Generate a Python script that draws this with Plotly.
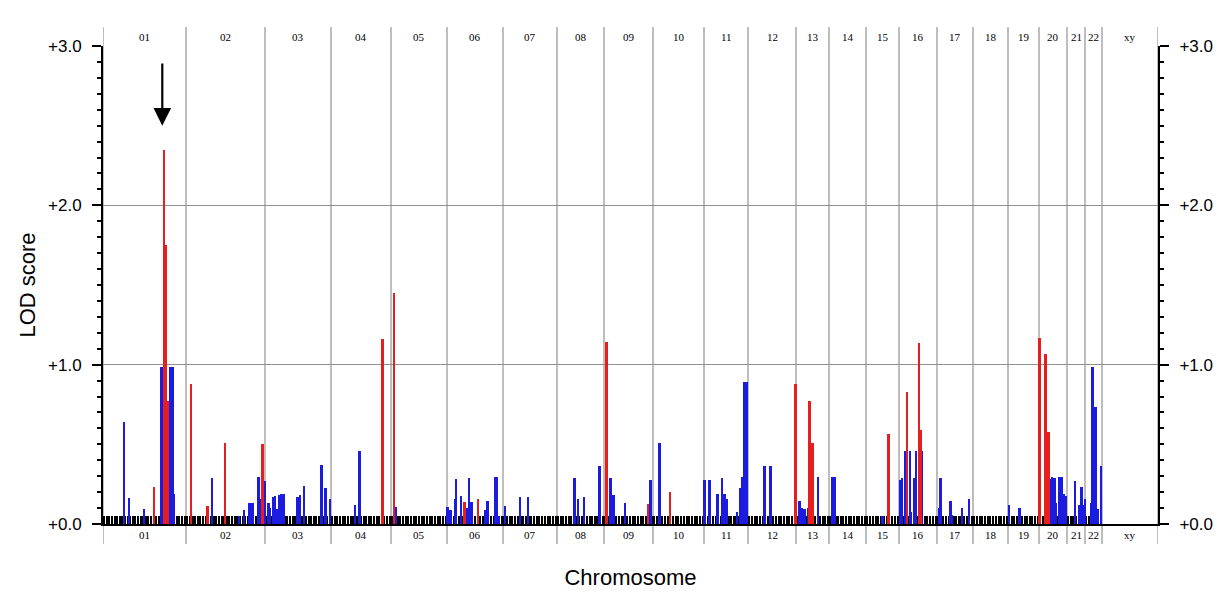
import plotly.graph_objects as go

# ---------------- data ----------------
chrom_labels = ["01", "02", "03", "04", "05", "06", "07", "08", "09", "10", "11",
                "12", "13", "14", "15", "16", "17", "18", "19", "20", "21", "22", "xy"]
# relative map length of each chromosome (genome axis units)
chrom_lengths = [83, 79, 66, 60, 56, 56, 54, 47, 49, 51, 44, 48, 33, 37, 33, 38,
                 36, 35, 31, 28, 18, 17, 56]
# number of genotyped markers per chromosome
marker_counts = [32, 30, 25, 23, 21, 21, 20, 18, 18, 19, 17, 18, 13, 14, 12, 14,
                 14, 13, 12, 10, 7, 6, 0]
marker_height = 0.05

# red series: genome position, LOD
red_pos = [51, 61.3, 63, 65.3, 88, 104.7, 122.3, 159.7, 279.7, 291.3, 361.7,
           375, 503.7, 545.3, 567, 692.7, 706.7, 709.7, 785.7, 804.3, 816, 818.3,
           936.7, 942.7, 945.7]
red_lod = [0.23, 2.35, 1.75, 0.77, 0.88, 0.11, 0.51, 0.50, 1.16, 1.45, 0.14,
           0.16, 1.14, 0.125, 0.20, 0.88, 0.77, 0.51, 0.565, 0.83, 1.135, 0.59,
           1.17, 1.07, 0.58]

# blue series: genome position, LOD
blue_pos = [21, 26, 41, 58.7, 67, 69.7, 71, 109, 136, 141.3, 146.7, 149.7, 155.7,
            156.7, 161.7, 165.7, 167.3, 170.3, 172.3, 174.7, 176.3, 178, 180.7,
            194.7, 197, 201.3, 218.7, 222.7, 227, 252, 256.7, 292.7, 344.7, 347.7,
            352, 353.3, 358.3, 363.7, 366, 368, 369.3, 382.7, 384.7, 392.7, 394,
            396.3, 402.3, 417, 425, 471.7, 475, 481.3, 496.7, 507.7, 510.7, 522,
            547.7, 556.7, 601.7, 606.7, 614.7, 619, 621.7, 623.7, 634.3, 637, 639.3,
            641.7, 644.3, 661.7, 667.7, 696.7, 698.7, 701.7, 705, 715, 729, 731.7,
            732.3, 779.7, 797, 799, 802.3, 807, 808, 811, 813.3, 817, 819.3, 836.7,
            837.7, 847.7, 849.3, 859.3, 866.3, 906.3, 916.7, 946.7, 949, 951.7,
            953.3, 956.7, 958.7, 960.7, 962.7, 972, 976.7, 978.7, 980.3, 982.3,
            988, 989.7, 992.7, 995, 998]
blue_lod = [0.64, 0.165, 0.096, 0.985, 0.985, 0.985, 0.19, 0.29, 0.05, 0.09,
            0.13, 0.13, 0.295, 0.155, 0.27, 0.13, 0.10, 0.17, 0.175, 0.096, 0.18,
            0.19, 0.19, 0.17, 0.18, 0.24, 0.37, 0.226, 0.155, 0.117, 0.456, 0.105,
            0.105, 0.09, 0.155, 0.285, 0.175, 0.10, 0.29, 0.135, 0.14, 0.088,
            0.146, 0.297, 0.297, 0.05, 0.113, 0.167, 0.167, 0.29, 0.155, 0.167,
            0.364, 0.29, 0.18, 0.13, 0.276, 0.506, 0.276, 0.276, 0.19, 0.29, 0.19,
            0.155, 0.075, 0.226, 0.297, 0.89, 0.89, 0.364, 0.364, 0.142, 0.10,
            0.096, 0.10, 0.293, 0.293, 0.293, 0.188, 0.05, 0.276, 0.29, 0.456,
            0.456, 0.075, 0.29, 0.456, 0.155, 0.456, 0.10, 0.29, 0.146, 0.055,
            0.10, 0.155, 0.117, 0.10, 0.285, 0.297, 0.29, 0.134, 0.293, 0.297,
            0.19, 0.175, 0.268, 0.117, 0.234, 0.117, 0.155, 0.134, 0.985, 0.736,
            0.092, 0.364]

y_ticks = [0, 1, 2, 3]
y_tick_text = ["+0.0", "+1.0", "+2.0", "+3.0"]

# ---------------- derived positions ----------------
bounds = [0]
for L in chrom_lengths:
    bounds.append(bounds[-1] + L)
genome_len = bounds[-1]

marker_x = []
for i, n in enumerate(marker_counts):
    if n == 0:
        continue
    step = chrom_lengths[i] / n
    for k in range(n):
        marker_x.append(bounds[i] + step * (k + 0.5))

fig = go.Figure()
fig.add_trace(go.Bar(x=marker_x, y=[marker_height] * len(marker_x), width=1.1,
                     marker=dict(color="black", line=dict(width=0)),
                     showlegend=False, hoverinfo="skip"))
fig.add_trace(go.Bar(x=blue_pos, y=blue_lod, width=1.8,
                     marker=dict(color="#1c1ce0", line=dict(width=0)),
                     showlegend=False))
fig.add_trace(go.Bar(x=red_pos, y=red_lod, width=1.8,
                     marker=dict(color="#e61e1e", line=dict(width=0)),
                     showlegend=False))
# dummy trace for the right axis
fig.add_trace(go.Scatter(x=[0], y=[0], yaxis="y2", mode="markers",
                         marker=dict(opacity=0), showlegend=False, hoverinfo="skip"))

# chromosome dividers and labels
for b in bounds:
    fig.add_shape(type="line", xref="x", yref="paper", x0=b, x1=b, y0=-0.042, y1=1.04,
                  line=dict(color="#a8a8a8", width=1.5), layer="below")
for i, lab in enumerate(chrom_labels):
    cx = (bounds[i] + bounds[i + 1]) / 2
    for yy in (1.019, -0.024):
        fig.add_annotation(x=cx, y=yy, xref="x", yref="paper", text=lab,
                           showarrow=False, yanchor="middle",
                           font=dict(family="Liberation Serif", size=11, color="black"))

# arrow pointing at the peak
fig.add_annotation(x=red_pos[1] - 2, y=2.5, ax=red_pos[1] - 2, ay=2.9,
                   xref="x", yref="y", axref="x", ayref="y", text="",
                   showarrow=True, arrowhead=2, arrowsize=1.6, arrowwidth=2.2,
                   arrowcolor="black")

axis_font = dict(family="Liberation Sans", size=17, color="black")
fig.update_layout(
    width=1214, height=587,
    margin=dict(l=95, r=64, t=38, b=71, autoexpand=False),
    paper_bgcolor="white", plot_bgcolor="white",
    barmode="overlay", bargap=0,
    font=dict(family="Liberation Sans", color="black"),
    xaxis=dict(range=[0, genome_len], showgrid=False, zeroline=False,
               showticklabels=False, ticks="", showline=True, linecolor="black",
               linewidth=2, automargin=False,
               title=dict(text="Chromosome", standoff=45,
                          font=dict(family="Liberation Sans", size=22))),
    yaxis=dict(range=[0, 3], tickvals=y_ticks, ticktext=y_tick_text,
               showgrid=True, gridcolor="#909090", gridwidth=1, zeroline=False,
               showline=True, linecolor="black", linewidth=2, automargin=False,
               ticks="outside", ticklen=9, tickwidth=2, tickcolor="black",
               tickfont=axis_font, ticklabelstandoff=7,
               minor=dict(dtick=0.1, ticks="outside", ticklen=4, tickwidth=1.5,
                          tickcolor="black", showgrid=False),
               title=dict(text="LOD score", standoff=6,
                          font=dict(family="Liberation Sans", size=22))),
    yaxis2=dict(range=[0, 3], overlaying="y", side="right", tickvals=y_ticks,
                ticktext=y_tick_text, showgrid=False, zeroline=False,
                showline=True, linecolor="black", linewidth=2, automargin=False,
                ticks="outside", ticklen=9, tickwidth=2, tickcolor="black",
                tickfont=axis_font, ticklabelstandoff=7,
                minor=dict(dtick=0.1, ticks="outside", ticklen=4, tickwidth=1.5,
                           tickcolor="black", showgrid=False)),
)

fig.write_html("out.html")
